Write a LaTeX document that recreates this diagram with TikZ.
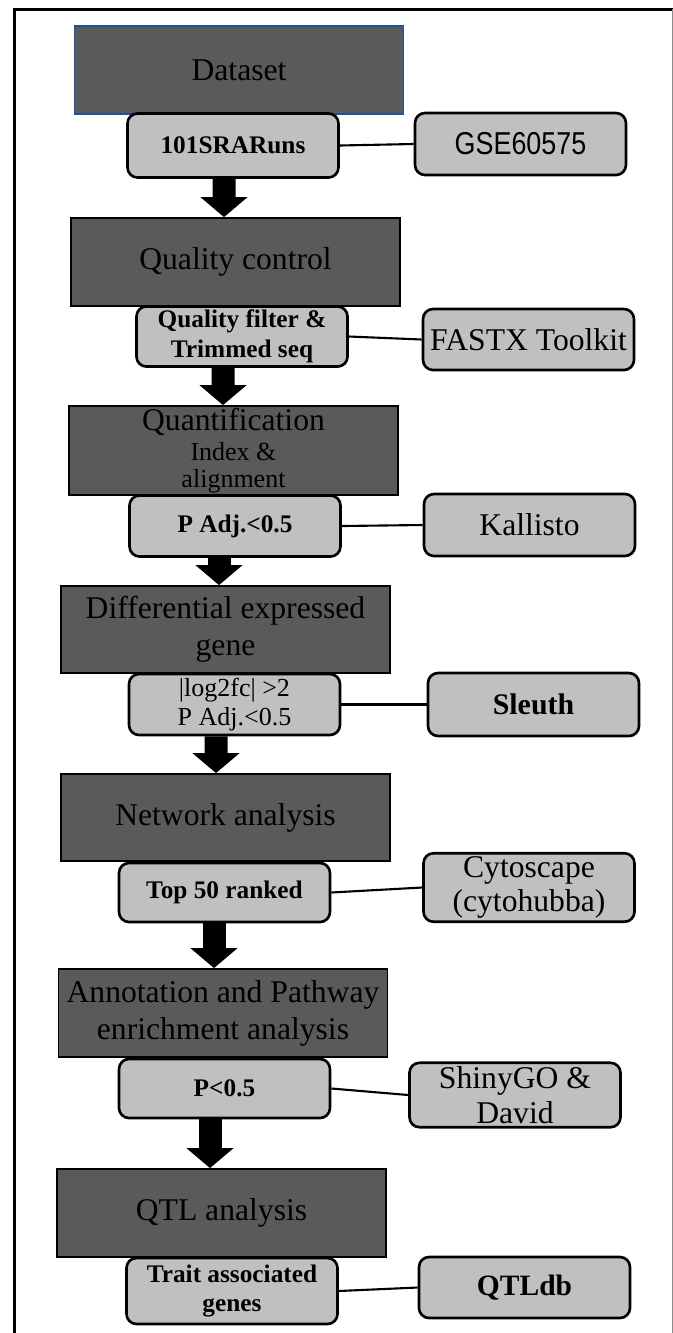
\documentclass[tikz,border=0pt]{standalone}
\usepackage{fontspec}
\setmainfont{Liberation Serif}
\newfontfamily\gsefont[FakeStretch=0.85]{Liberation Sans}
\usepackage{xcolor}
\usepackage{tikz}
\usetikzlibrary{arrows.meta, positioning}
\definecolor{mydark}{RGB}{90, 90, 90}
\definecolor{mylight}{RGB}{192, 192, 192}
\definecolor{myblue}{RGB}{30, 80, 160}
\newcommand{\subtxt}{\fontsize{7.4}{7.3}\selectfont}

\begin{document}
\begin{tikzpicture}[
    stage/.style={rectangle, draw=black, line width=0.5pt, fill=mydark, minimum width=3.29cm, minimum height=0.88cm, align=center, inner sep=1pt, font=\fontsize{9}{10.5}\selectfont},
    info/.style={rectangle, rounded corners=0.1cm, draw=black, line width=0.75pt, fill=mylight, minimum width=2.11cm, minimum height=0.61cm, align=center, inner sep=1pt, font=\fontsize{7.2}{8.5}\selectfont\bfseries},
    tool/.style={info, font=\fontsize{9}{9.6}\selectfont},
    link/.style={black, line width=0.6pt},
    flow/.style={black, line width=0.23cm, -{Triangle[width=0.46cm, length=0.2cm]}}
]
    \useasboundingbox (0,0) rectangle (6.73,-13.33);
    % frame
    \draw[line width=0.03cm] (0.15,-13.33) -- (0.15,-0.09) -- (6.73,-0.09);
    \draw[black!45, line width=0.01cm] (6.72,-0.09) -- (6.72,-13.33);

    % Dataset
    \node[stage, draw=myblue] (dataset) at (2.39,-0.70) {Dataset};
    \node[info, minimum height=0.64cm] (runs) at (2.33,-1.455) {101SRARuns};
    \node[tool, minimum height=0.62cm, font=\gsefont\fontsize{9}{10}\selectfont] (gse) at (5.205,-1.44) {GSE60575};
    \draw[link] (runs.east) -- (gse.west);

    % Quality control
    \node[stage] (qc) at (2.355,-2.62) {Quality control};
    \node[info, minimum height=0.60cm] (filter) at (2.42,-3.365) {Quality filter \&\\Trimmed seq};
    \node[tool] (fastx) at (5.285,-3.395) {FASTX Toolkit};
    \draw[link] (filter.east) -- (fastx.west);
    \draw[flow] ([xshift=-0.09cm]runs.south) -- ([xshift=-0.115cm]qc.north);

    % Quantification
    \node[stage, inner sep=0pt, minimum height=0.89cm, font=\fontsize{9}{7.6}\selectfont] (quant) at (2.335,-4.505) {Quantification\\[1.2pt]\subtxt Index \&\\\subtxt alignment};
    \node[info] (padj) at (2.35,-5.26) {P Adj.<0.5};
    \node[tool, minimum height=0.62cm] (kallisto) at (5.295,-5.25) {Kallisto};
    \draw[link] (padj.east) -- (kallisto.west);
    \draw[flow] ([xshift=-0.19cm]filter.south) -- ([xshift=-0.105cm]quant.north);

    % Differential expression
    \node[stage, minimum height=0.87cm] (deg) at (2.255,-6.295) {Differential expressed\\gene};
    \node[info, font=\fontsize{7.4}{8.2}\selectfont] (lfc) at (2.345,-7.045) {|log2fc| >2\\P Adj.<0.5};
    \node[tool, minimum height=0.63cm, font=\fontsize{8.5}{9.5}\selectfont\bfseries] (sleuth) at (5.335,-7.045) {Sleuth};
    \draw[link] (lfc.east) -- (sleuth.west);
    \draw[flow] ([xshift=-0.16cm]padj.south) -- ([xshift=-0.065cm]deg.north);

    % Network analysis
    \node[stage, minimum height=0.87cm] (net) at (2.255,-8.175) {Network analysis};
    \node[info, minimum height=0.59cm] (top) at (2.245,-8.925) {Top 50 ranked};
    \node[tool, minimum height=0.65cm] (cyto) at (5.29,-8.875) {Cytoscape\\(cytohubba)};
    \draw[link] (top.east) -- (cyto.west);
    \draw[flow] ([xshift=-0.185cm]lfc.south) -- ([xshift=-0.095cm]net.north);

    % Annotation and pathway enrichment
    \node[stage] (annot) at (2.23,-10.13) {Annotation and Pathway\\enrichment analysis};
    \node[info, minimum height=0.59cm] (pval) at (2.245,-10.885) {P<0.5};
    \node[tool, minimum height=0.60cm, font=\fontsize{9}{10}\selectfont] (shiny) at (5.15,-10.95) {ShinyGO \&\\David};
    \draw[link] (pval.east) -- (shiny.west);
    \draw[flow] ([xshift=-0.105cm]top.south) -- ([xshift=-0.09cm]annot.north);

    % QTL analysis
    \node[stage] (qtl) at (2.215,-12.13) {QTL analysis};
    \node[info, minimum height=0.66cm] (trait) at (2.32,-12.91) {Trait associated\\genes};
    \node[tool, font=\fontsize{8.4}{9.5}\selectfont\bfseries] (qtldb) at (5.245,-12.875) {QTLdb};
    \draw[link] (trait.east) -- (qtldb.west);
    \draw[flow] ([xshift=-0.145cm]pval.south) -- ([xshift=-0.115cm]qtl.north);
\end{tikzpicture}
\end{document}
